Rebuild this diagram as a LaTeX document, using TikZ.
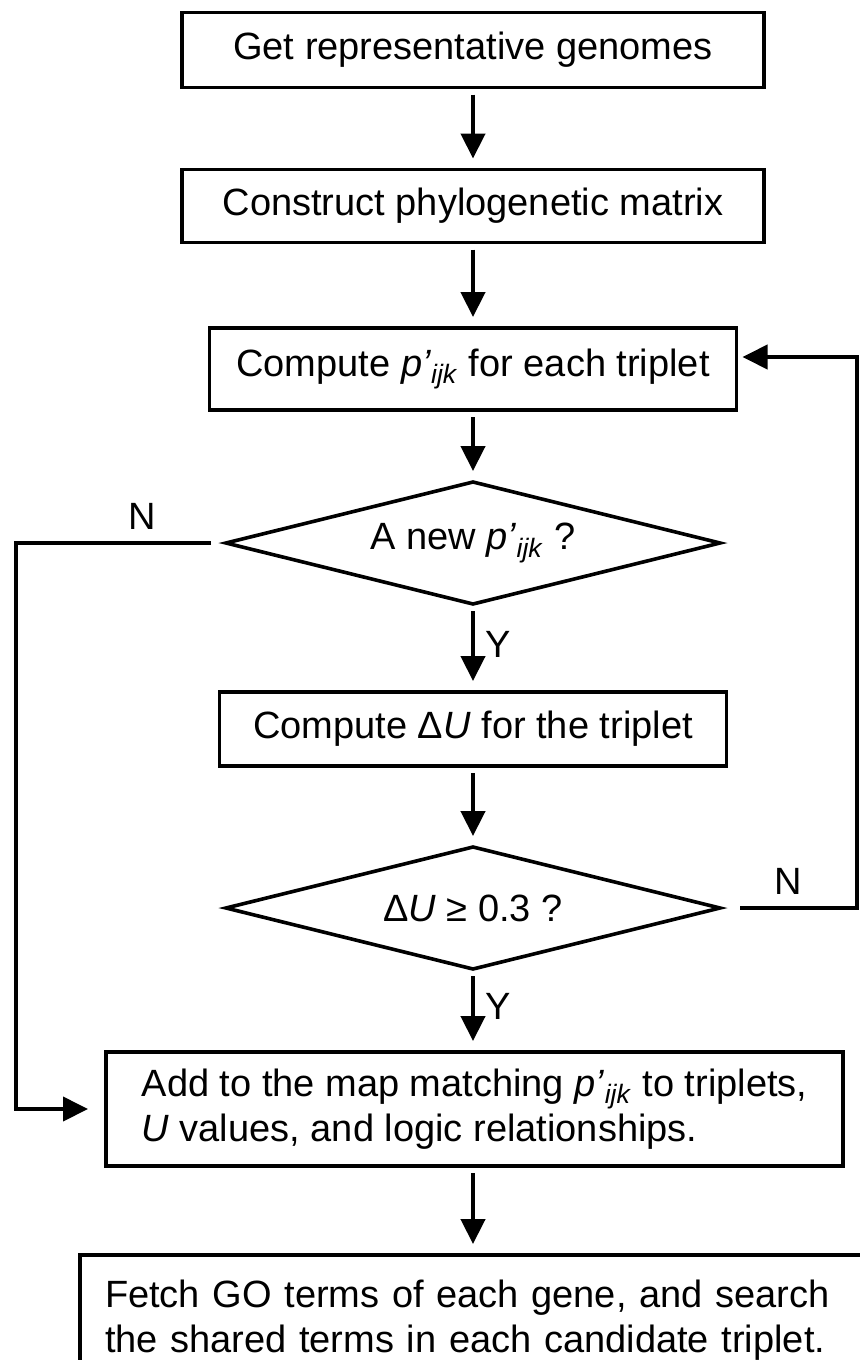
\documentclass[tikz,border=0pt]{standalone}
\usepackage{fontspec}
\setmainfont{Liberation Sans}
\usetikzlibrary{shapes.geometric,arrows.meta}
\newcommand{\pijk}{\textit{p’}\textsubscript{\textit{ijk}}}
\begin{document}
\begin{tikzpicture}[x=0.5pt,y=-0.5pt,font=\fontsize{19}{22.5}\selectfont,
  stepbox/.style={draw,line width=1.8pt,inner sep=0pt,outer sep=0pt,align=center},
  decision/.style={draw,diamond,aspect=4,line width=1.8pt,inner sep=0pt,outer sep=0pt,minimum width=247pt,minimum height=61pt},
  arr/.style={line width=2.2pt,-{Triangle[length=12.5pt,width=12pt]},shorten <=3.5pt,shorten >=5.5pt},
  link/.style={line width=2pt,-{Triangle[length=12.5pt,width=12pt]}}]
\useasboundingbox (0,0) rectangle (860,1360);
\clip (0,0) rectangle (860,1360);

\coordinate (leftx) at (16,0);
\coordinate (rightx) at (857,0);

\node[stepbox,minimum width=291pt,minimum height=37.5pt] (genomes) at (473,50) {Get representative genomes};
\node[stepbox,minimum width=291pt,minimum height=36.5pt] (matrix) at (473,206) {Construct phylogenetic matrix};
\node[stepbox,minimum width=263.5pt,minimum height=41pt] (pvalue) at (473,369) {Compute \pijk{} for each triplet};
\node[decision] (isnew) at (473,543) {A new \pijk{} ?};
\node[stepbox,minimum width=253.5pt,minimum height=37pt] (deltau) at (473,729) {Compute Δ\textit{U} for the triplet};
\node[decision] (isbig) at (473,908) {Δ\textit{U} ≥ 0.3 ?};
\node[stepbox,minimum width=368.5pt,minimum height=57pt,align=left] (addmap) at (474.5,1109) {Add to the map matching \pijk{} to triplets,\\ \textit{U} values, and logic relationships.};
\node[stepbox,anchor=north west,text width=380pt,inner xsep=12.5pt,inner ysep=12.5pt,align=left] (fetch) at (80,1255) {Fetch GO terms of each gene, and search\\ the shared terms in each candidate triplet.};

\draw[arr] (genomes) -- (matrix);
\draw[arr] (matrix) -- (pvalue);
\draw[arr] (pvalue) -- (isnew);
\draw[arr] (isnew) -- node[right,inner sep=0,xshift=5pt,yshift=2pt] {Y} (deltau);
\draw[arr] (deltau) -- (isbig);
\draw[arr] (isbig) -- node[right,inner sep=0,xshift=5pt,yshift=2pt] {Y} (isbig.south |- addmap.north);
\draw[arr] (isbig.south |- addmap.south) -- (isbig.south |- fetch.north);
\draw[link,shorten <=7.5pt,shorten >=9pt] (isnew.west) -- node[above=6pt,pos=0.4,inner sep=0] {N} (isnew.west -| leftx) |- (addmap.west);
\draw[link,shorten <=10pt,shorten >=3pt] (isbig.east) -- node[above=6pt,inner sep=0] {N} (isbig.east -| rightx) |- ([yshift=6pt]pvalue.east);
\end{tikzpicture}
\end{document}
